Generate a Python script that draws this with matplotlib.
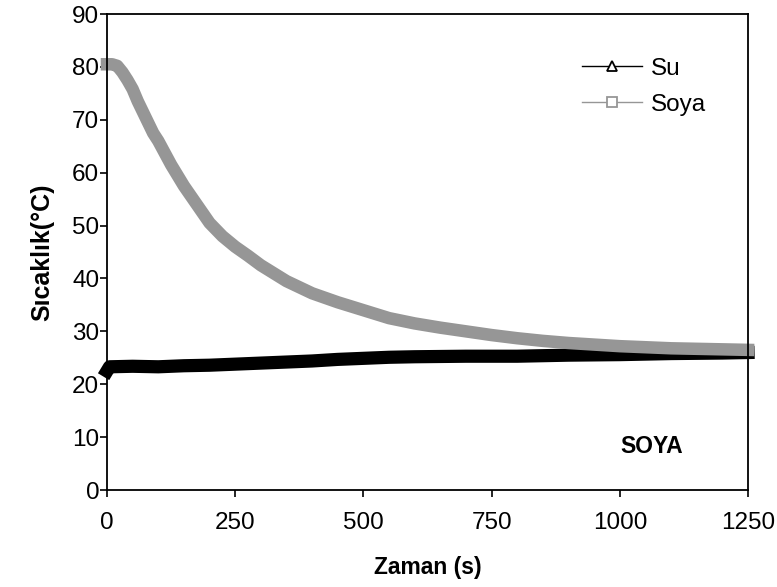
import matplotlib
matplotlib.use("Agg")
import matplotlib.pyplot as plt
from matplotlib.lines import Line2D

plt.rcParams['font.family'] = ['Liberation Sans', 'DejaVu Sans']

soya_t = [0, 10, 20, 30, 40, 50, 60, 70, 80, 90, 100, 125, 150, 175, 200, 225, 250,
          275, 300, 350, 400, 450, 500, 550, 600, 650, 700, 750, 800, 850, 900, 950,
          1000, 1050, 1100, 1150, 1200, 1250]
soya_T = [80.5, 80.5, 80.2, 79.0, 77.5, 75.8, 73.5, 71.5, 69.5, 67.5, 66.0, 61.5, 57.5,
          54.0, 50.5, 48.0, 46.0, 44.3, 42.5, 39.5, 37.2, 35.5, 34.0, 32.5, 31.5, 30.7,
          30.0, 29.3, 28.7, 28.2, 27.8, 27.5, 27.2, 27.0, 26.8, 26.7, 26.6, 26.5]

su_t = [0, 5, 50, 100, 150, 200, 250, 300, 350, 400, 450, 500, 550, 600, 700, 800,
        900, 1000, 1100, 1200, 1250]
su_T = [22.5, 23.3, 23.4, 23.3, 23.5, 23.6, 23.8, 24.0, 24.2, 24.4, 24.7, 24.9, 25.1,
        25.2, 25.3, 25.3, 25.5, 25.6, 25.8, 25.9, 26.0]

xticks = [0, 250, 500, 750, 1000, 1250]
yticks = [0, 10, 20, 30, 40, 50, 60, 70, 80, 90]

gray = '#969696'
fs = 17.5

fig = plt.figure(figsize=(7.77, 5.87), dpi=100)
ax = fig.add_axes([0.1377, 0.1652, 0.825, 0.8109])

ax.plot(su_t, su_T, color='black', lw=9.5, solid_capstyle='projecting',
        solid_joinstyle='round', zorder=2, clip_on=False)
ax.plot(soya_t, soya_T, color=gray, lw=9, solid_capstyle='projecting',
        solid_joinstyle='round', zorder=3, clip_on=False)

ax.set_xlim(0, 1250)
ax.set_ylim(0, 90)
ax.set_xticks(xticks)
ax.set_yticks(yticks)
ax.tick_params(axis='both', direction='out', length=5, width=1.2, labelsize=fs)
ax.tick_params(axis='y', pad=0.5)
ax.tick_params(axis='x', pad=11)
for s in ax.spines.values():
    s.set_linewidth(1.3)
    s.set_zorder(4)

ax.set_xlabel('Zaman (s)', fontsize=16.5, fontweight='bold', labelpad=16)
ax.set_ylabel('Sıcaklık(°C)', fontsize=18, fontweight='bold', labelpad=13)

ax.text(0.849, 0.092, 'SOYA', transform=ax.transAxes, fontsize=16.5,
        fontweight='bold', ha='center', va='center')

h1 = Line2D([], [], color='black', lw=1, marker='^', ms=7, mfc='white', mec='black', mew=1.3)
h2 = Line2D([], [], color=gray, lw=1, marker='s', ms=7, mfc='white', mec=gray, mew=1.3)
ax.legend([h1, h2], ['Su', 'Soya'], loc='upper left', bbox_to_anchor=(0.733, 0.918),
          frameon=False, fontsize=fs, handlelength=2.5, handletextpad=0.33,
          labelspacing=0.56, borderpad=0.2, borderaxespad=0)

fig.savefig('out.png', dpi=100)
